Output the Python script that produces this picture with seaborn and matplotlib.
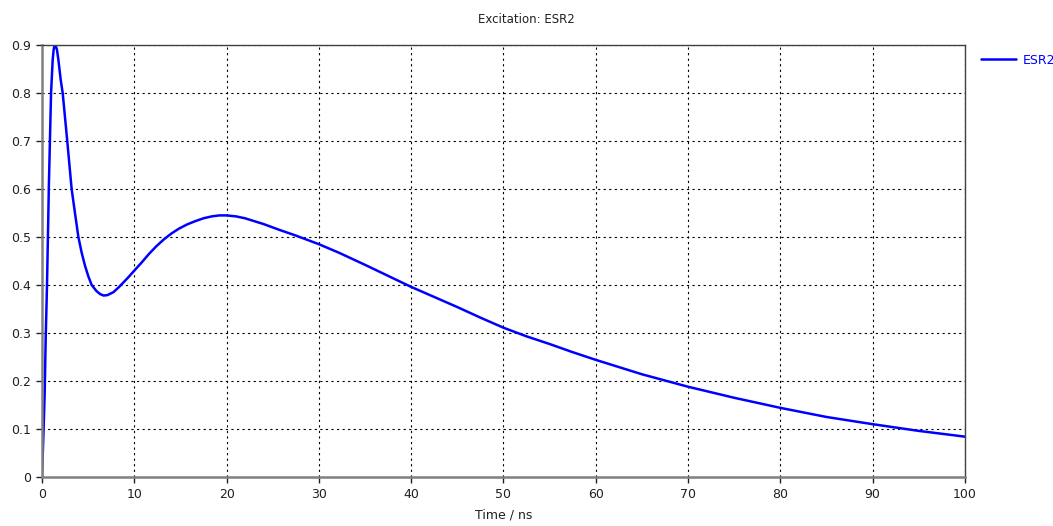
import matplotlib
matplotlib.use("Agg")
import matplotlib.pyplot as plt
import matplotlib.ticker as mticker
import pandas as pd
import seaborn as sns

# Excitation trace of ESR2 (time in ns, excitation fraction)
time_ns = [
    0.0, 0.05, 0.18, 0.29, 0.40, 0.54, 0.65, 0.74, 0.86, 0.98, 1.05, 1.16,
    1.26, 1.34, 1.42, 1.50, 1.62, 1.77, 2.02, 2.24, 2.72, 3.21, 3.57, 3.94,
    4.30, 4.66, 5.02, 5.38, 5.92, 6.30, 6.68, 7.10, 7.73, 8.30, 9.35, 10.0,
    10.8, 11.6, 12.4, 13.2, 14.0, 14.8, 15.7, 16.6, 17.5, 18.4, 19.2, 20.0,
    21.0, 22.0, 23.0, 24.0, 25.7, 27.5, 30.0, 32.2, 35.0, 37.5, 40.0, 42.5,
    45.0, 47.5, 50.0, 52.5, 55.0, 57.5, 60.0, 65.0, 70.0, 75.0, 80.0, 85.0,
    90.0, 95.0, 100.0,
]
excitation = [
    0.000, 0.030, 0.105, 0.176, 0.290, 0.400, 0.510, 0.605, 0.703, 0.800, 0.828, 0.870,
    0.890, 0.898, 0.900, 0.898, 0.890, 0.870, 0.828, 0.800, 0.703, 0.600, 0.550, 0.500,
    0.467, 0.440, 0.418, 0.400, 0.387, 0.381, 0.378, 0.379, 0.385, 0.395, 0.416, 0.430,
    0.447, 0.465, 0.481, 0.495, 0.507, 0.517, 0.526, 0.533, 0.539, 0.543, 0.545, 0.545,
    0.543, 0.539, 0.533, 0.527, 0.515, 0.503, 0.485, 0.467, 0.442, 0.419, 0.396, 0.375,
    0.354, 0.332, 0.311, 0.293, 0.277, 0.260, 0.244, 0.214, 0.188, 0.165, 0.144, 0.125,
    0.110, 0.096, 0.084,
]
series_name = "ESR2"
title_text = "Excitation: ESR2"
x_label = "Time / ns"
x_ticks = list(range(0, 101, 10))
y_ticks = [0, 0.1, 0.2, 0.3, 0.4, 0.5, 0.6, 0.7, 0.8, 0.9]

sns.set_style("white")
plt.rcParams["font.family"] = ["DejaVu Sans"]

df = pd.DataFrame({"Time": time_ns, "Excitation": excitation, "Series": series_name})

fig = plt.figure(figsize=(10.53, 5.26), dpi=100)
ax = fig.add_axes([0.0399, 0.0932, 0.9164 - 0.0399, 0.9144 - 0.0932])

sns.lineplot(data=df, x="Time", y="Excitation", hue="Series",
             palette={series_name: "#0000ff"}, linewidth=1.8,
             estimator=None, sort=False, ax=ax, legend=False)

ax.set_xlim(0, 100)
ax.set_ylim(0, 0.9)
ax.set_xticks(x_ticks)
ax.set_yticks(y_ticks)
ax.yaxis.set_major_formatter(mticker.FuncFormatter(lambda v, p: f"{v:g}"))
ax.tick_params(axis="both", direction="out", length=4, width=1, color="#202020",
               labelsize=9, labelcolor="#202020", pad=4, left=True, bottom=True)

ax.grid(True, color="black", linestyle=(0, (2, 3)), linewidth=0.8)
ax.set_axisbelow(True)

for side in ("left", "bottom"):
    ax.spines[side].set_color("#808080")
    ax.spines[side].set_linewidth(1.8)
for side in ("top", "right"):
    ax.spines[side].set_color("#404040")
    ax.spines[side].set_linewidth(1.0)

ax.set_xlabel(x_label, fontsize=9, color="#202020", labelpad=5)
ax.set_ylabel("")
fig.suptitle(title_text, x=0.5, y=0.975, fontsize=8.5, color="#202020")

handles = [plt.Line2D([], [], color="#0000ff", linewidth=1.8)]
leg = ax.legend(handles, [series_name], loc="upper left",
                bbox_to_anchor=(1.008, 1.0), frameon=False,
                fontsize=9, handlelength=2.8, handletextpad=0.5,
                borderaxespad=0.3)
for t in leg.get_texts():
    t.set_color("#0000ff")

fig.savefig("out.png", dpi=100)
